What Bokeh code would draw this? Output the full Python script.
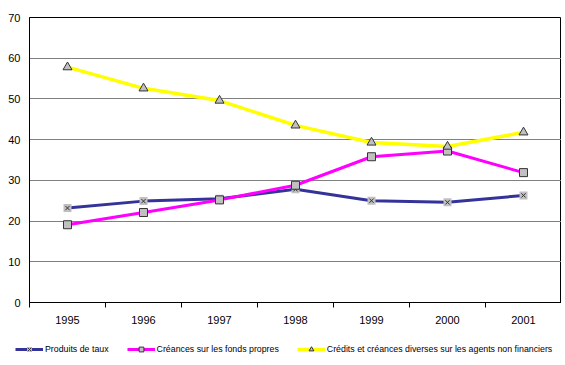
from bokeh.plotting import figure
from bokeh.layouts import column
from bokeh.models import Range1d, FixedTicker, Legend, LegendItem, ColumnDataSource
from bokeh.embed import file_html
from bokeh.resources import INLINE

years = ["1995", "1996", "1997", "1998", "1999", "2000", "2001"]
produits = [23.2, 24.9, 25.5, 27.8, 25.0, 24.6, 26.3]
creances = [19.1, 22.1, 25.2, 28.8, 35.8, 37.2, 31.9]
credits = [57.8, 52.6, 49.6, 43.5, 39.3, 38.3, 41.8]
y_ticks = [0, 10, 20, 30, 40, 50, 60, 70]

names = ["Produits de taux", "Créances sur les fonds propres",
         "Crédits et créances diverses sur les agents non financiers"]

xs = list(range(1, len(years) + 1))
src = ColumnDataSource(dict(x=xs, a=produits, b=creances, c=credits))

p = figure(width=561, height=340, output_backend="svg", toolbar_location=None,
           x_range=Range1d(0.5, len(years) + 0.5), y_range=Range1d(0, 70),
           min_border_left=29, min_border_right=0, min_border_top=17, min_border_bottom=38)
p.frame_align = False
p.background_fill_color = "white"
p.border_fill_color = "white"
p.outline_line_color = "black"
p.outline_line_width = 1

# grid
p.xgrid.grid_line_color = None
p.ygrid.ticker = FixedTicker(ticks=y_ticks)
p.ygrid.grid_line_color = "#808080"
p.ygrid.grid_line_width = 1

# x axis
xa = p.xaxis[0]
xa.ticker = FixedTicker(ticks=xs, minor_ticks=[i + 0.5 for i in range(0, len(years) + 1)])
xa.major_label_overrides = {x: y for x, y in zip(xs, years)}
xa.major_tick_out = 0
xa.major_tick_in = 0
xa.minor_tick_out = 5
xa.minor_tick_in = 0
xa.minor_tick_line_color = "black"
xa.axis_line_color = "black"
xa.major_label_standoff = 8
xa.major_label_text_font = "Liberation Sans"
xa.major_label_text_font_size = "11px"
xa.major_label_text_color = "black"

ya = p.yaxis[0]
ya.ticker = FixedTicker(ticks=y_ticks)
ya.major_tick_out = 0
ya.major_tick_in = 0
ya.minor_tick_line_color = None
ya.axis_line_color = "black"
ya.major_label_standoff = 9
ya.major_label_text_font = "Liberation Sans"
ya.major_label_text_font_size = "11px"
ya.major_label_text_color = "black"

LINE1 = dict(line_color="#333399", line_width=3)
LINE2 = dict(line_color="#FF00FF", line_width=3)
LINE3 = dict(line_color="#FFFF00", line_width=3.5)
MK1A = dict(marker="square", size=8, fill_color="#C0C0C0", line_color=None)
MK1B = dict(marker="x", size=6, line_color="#333333", line_width=1)
MK2 = dict(marker="square", size=8, fill_color="#C0C0C0", line_color="#333333", line_width=1)
MK3 = dict(marker="triangle", size=9, fill_color="#C0C0C0", line_color="#333333", line_width=1)

# series
p.line("x", "a", source=src, **LINE1)
p.line("x", "b", source=src, **LINE2)
p.line("x", "c", source=src, **LINE3)
p.scatter("x", "a", source=src, **MK1A)
p.scatter("x", "a", source=src, **MK1B)
p.scatter("x", "b", source=src, **MK2)
p.scatter("x", "c", source=src, **MK3)

# legend strip: a small figure whose view range excludes the data, holding only the legend
lg = figure(width=561, height=25, output_backend="svg", toolbar_location=None,
            x_range=Range1d(0.5, len(years) + 0.5), y_range=Range1d(1000, 1001),
            min_border_left=0, min_border_right=0, min_border_top=0, min_border_bottom=0)
lg.frame_align = False
lg.axis.visible = False
lg.grid.visible = False
lg.outline_line_color = None
lg.background_fill_color = "white"
lg.border_fill_color = "white"
r1 = [lg.line("x", "a", source=src, **LINE1),
      lg.scatter("x", "a", source=src, **MK1A),
      lg.scatter("x", "a", source=src, **MK1B)]
r2 = [lg.line("x", "b", source=src, **LINE2),
      lg.scatter("x", "b", source=src, **MK2)]
r3 = [lg.line("x", "c", source=src, **LINE3),
      lg.scatter("x", "c", source=src, **MK3)]

legend = Legend(items=[
    LegendItem(label=names[0], renderers=r1),
    LegendItem(label=names[1], renderers=r2),
    LegendItem(label=names[2], renderers=r3),
], location=(15, 10), orientation="horizontal")
legend.glyph_width = 28
legend.glyph_height = 12
legend.label_height = 12
legend.label_standoff = 2
legend.spacing = 18
legend.padding = 0
legend.margin = 0
legend.border_line_color = None
legend.background_fill_alpha = 0
legend.label_text_font = "Liberation Sans"
legend.label_text_font_size = "8.8px"
legend.label_text_color = "black"
lg.add_layout(legend, "center")

layout = column(p, lg, spacing=0)
open("out.html", "w").write(file_html(layout, INLINE))
